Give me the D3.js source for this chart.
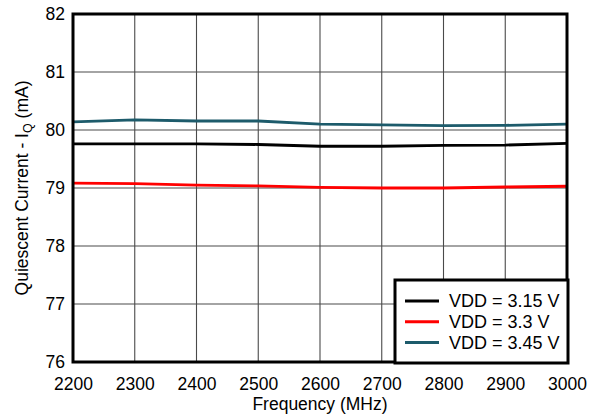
<!DOCTYPE html>
<html>
<head>
<meta charset="utf-8">
<script src="https://cdn.jsdelivr.net/npm/d3@7"></script>
<style>
  html, body { margin: 0; padding: 0; background: #fff; }
  svg { display: block; font-family: "Liberation Sans", Arial, Helvetica, sans-serif; }
</style>
</head>
<body>
<svg id="chart" width="598" height="419"></svg>
<script>
// Frequency sweep points (MHz)
const frequencies = [2200, 2300, 2400, 2500, 2600, 2700, 2800, 2900, 3000];

// Quiescent current (mA) for each supply voltage
const vdd315 = [79.76, 79.76, 79.76, 79.75, 79.72, 79.72, 79.735, 79.74, 79.77];
const vdd330 = [79.085, 79.075, 79.05, 79.035, 79.012, 79.0, 79.0, 79.017, 79.03];
const vdd345 = [80.14, 80.175, 80.155, 80.155, 80.1, 80.088, 80.075, 80.08, 80.1];

const seriesNames = ["VDD = 3.15 V", "VDD = 3.3 V", "VDD = 3.45 V"];
const seriesColors = ["#000000", "#ff0000", "#1d5b6b"];

const xTicks = [2200, 2300, 2400, 2500, 2600, 2700, 2800, 2900, 3000];
const yTicks = [76, 77, 78, 79, 80, 81, 82];

const series = [vdd315, vdd330, vdd345].map((vals, i) => ({
  name: seriesNames[i],
  color: seriesColors[i],
  values: vals.map((v, j) => ({ f: frequencies[j], v }))
}));

const svg = d3.select("#chart");
const margin = { left: 73, right: 31, top: 14, bottom: 57 };
const W = 598, H = 419;
const plotW = W - margin.left - margin.right;
const plotH = H - margin.top - margin.bottom;
const fs = 17.5;

const x = d3.scaleLinear().domain([2200, 3000]).range([margin.left, margin.left + plotW]);
const y = d3.scaleLinear().domain([76, 82]).range([margin.top + plotH, margin.top]);

// Grid
const grid = svg.append("g");
grid.selectAll("line.v").data(xTicks).join("line")
  .attr("x1", d => x(d)).attr("x2", d => x(d))
  .attr("y1", y(76)).attr("y2", y(82))
  .attr("stroke", "#4a4a4a").attr("stroke-width", 1.1);
grid.selectAll("line.h").data(yTicks).join("line")
  .attr("x1", x(2200)).attr("x2", x(3000))
  .attr("y1", d => y(d)).attr("y2", d => y(d))
  .attr("stroke", "#4a4a4a").attr("stroke-width", 1.1);

// Axes (labels only; the frame draws the axis lines)
const xAxis = d3.axisBottom(x).tickValues(xTicks).tickFormat(d3.format("d")).tickSize(0).tickPadding(15.5);
const gx = svg.append("g").attr("transform", `translate(0,${y(76)})`).call(xAxis);
gx.select(".domain").remove();
gx.selectAll("text").attr("font-size", fs).attr("fill", "#000").attr("font-family", null);

const yAxis = d3.axisLeft(y).tickValues(yTicks).tickFormat(d3.format("d")).tickSize(0).tickPadding(8);
const gy = svg.append("g").attr("transform", `translate(${x(2200)},0)`).call(yAxis);
gy.select(".domain").remove();
gy.selectAll("text").attr("font-size", fs).attr("fill", "#000").attr("font-family", null);

// Data lines
const line = d3.line().x(d => x(d.f)).y(d => y(d.v));
svg.append("g").selectAll("path").data(series).join("path")
  .attr("d", d => line(d.values))
  .attr("fill", "none")
  .attr("stroke", d => d.color)
  .attr("stroke-width", 2.8)
  .attr("stroke-linejoin", "round");

// Plot frame
svg.append("rect")
  .attr("x", x(2200)).attr("y", y(82))
  .attr("width", plotW).attr("height", plotH)
  .attr("fill", "none").attr("stroke", "#000").attr("stroke-width", 3);

// Axis titles
svg.append("text")
  .attr("x", (x(2200) + x(3000)) / 2).attr("y", 410)
  .attr("text-anchor", "middle").attr("font-size", fs)
  .text("Frequency (MHz)");

const yt = svg.append("text")
  .attr("transform", `translate(27.5,${(y(76) + y(82)) / 2}) rotate(-90)`)
  .attr("text-anchor", "middle").attr("font-size", fs);
yt.append("tspan").text("Quiescent Current - I");
yt.append("tspan").attr("font-size", 12.5).attr("dy", 4).text("Q");
yt.append("tspan").attr("dy", -4).text(" (mA)");

// Legend
const lg = svg.append("g");
lg.append("rect")
  .attr("x", 395).attr("y", 280).attr("width", 173).attr("height", 83)
  .attr("fill", "#fff").attr("stroke", "#000").attr("stroke-width", 3);
series.forEach((s, i) => {
  const cy = 301 + i * 20.8;
  lg.append("line").attr("x1", 405).attr("x2", 439).attr("y1", cy).attr("y2", cy)
    .attr("stroke", s.color).attr("stroke-width", 3);
  lg.append("text").attr("x", 449).attr("y", cy).attr("dy", "0.36em")
    .attr("font-size", 18).text(s.name);
});
</script>
</body>
</html>
